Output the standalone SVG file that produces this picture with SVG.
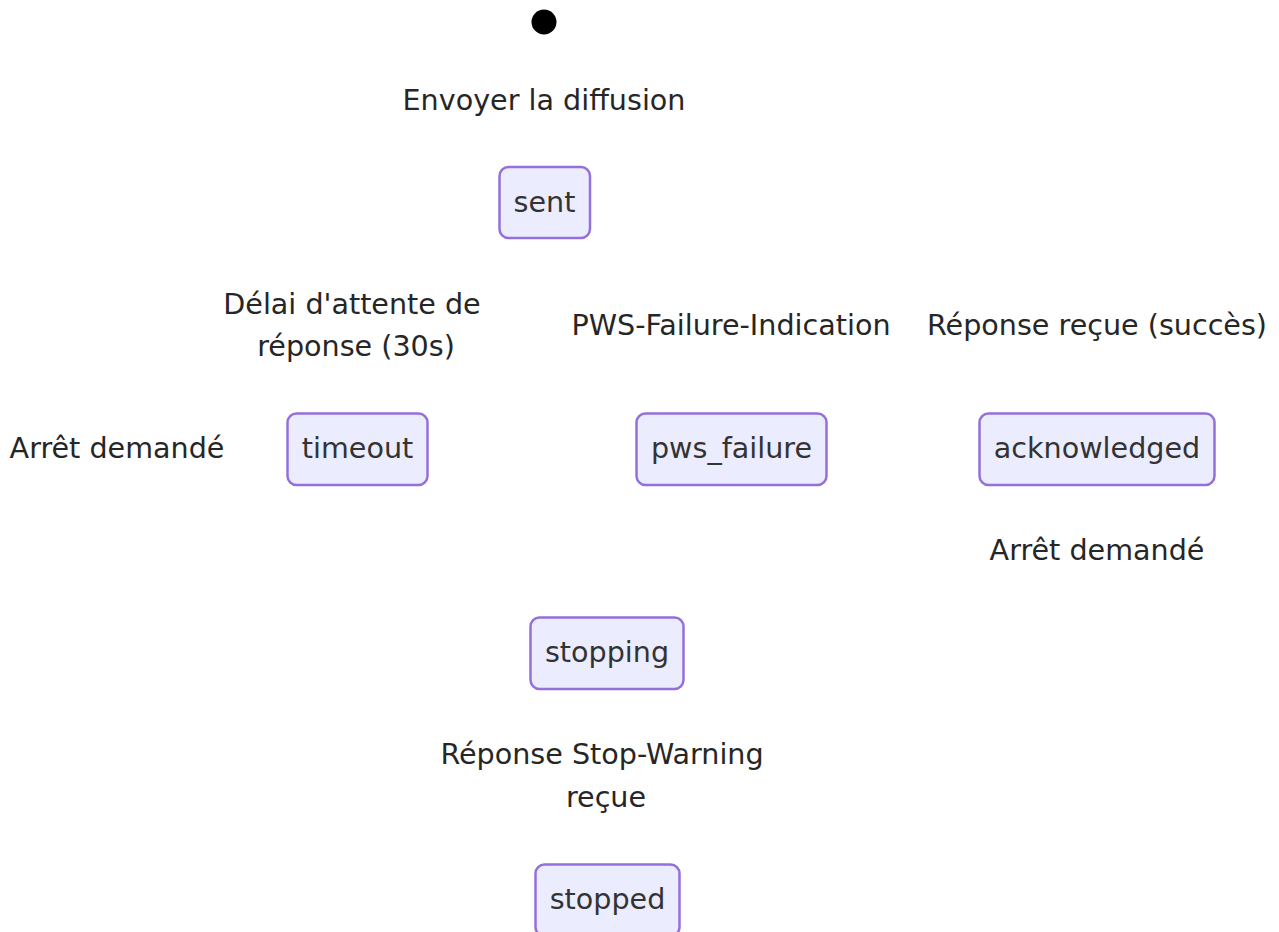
<svg xmlns="http://www.w3.org/2000/svg" width="1279" height="932" viewBox="0 0 1279 932">
  <style>
    .state rect { fill: #ECECFF; stroke: #9370DB; stroke-width: 2.5; }
    .state text, .lbl { font-family: "DejaVu Sans", "Liberation Sans", sans-serif; font-size: 28.6px; fill: #333333; text-anchor: middle; }
    .lbl { fill: #262626; }
  </style>
  <rect width="1279" height="932" fill="#ffffff"/>

  <!-- transitions (edge lines not rendered) -->
  <g id="connectors"></g>

  <!-- transition labels -->
  <g id="edge-labels">
    <text class="lbl" x="544" y="110">Envoyer la diffusion</text>
    <text class="lbl" x="352" y="314">Délai d'attente de</text>
    <text class="lbl" x="356" y="356">réponse (30s)</text>
    <text class="lbl" x="731" y="335">PWS-Failure-Indication</text>
    <text class="lbl" x="1097" y="335">Réponse reçue (succès)</text>
    <text class="lbl" x="117" y="458">Arrêt demandé</text>
    <text class="lbl" x="1097" y="560">Arrêt demandé</text>
    <text class="lbl" x="602" y="764">Réponse Stop-Warning</text>
    <text class="lbl" x="606" y="807">reçue</text>
  </g>

  <g id="start">
    <circle cx="544" cy="22" r="12.5" fill="#000000"/>
  </g>

  <g id="sent" class="state">
    <rect x="499.5" y="167" width="90.5" height="71" rx="9"/>
    <text x="544.5" y="212">sent</text>
  </g>

  <g id="timeout" class="state">
    <rect x="287.5" y="413.5" width="140" height="71.5" rx="9"/>
    <text x="357.5" y="458">timeout</text>
  </g>

  <g id="pws_failure" class="state">
    <rect x="636.5" y="413.5" width="190" height="71.5" rx="9"/>
    <text x="731.5" y="458">pws_failure</text>
  </g>

  <g id="acknowledged" class="state">
    <rect x="979.5" y="413.5" width="235" height="71.5" rx="9"/>
    <text x="1097" y="458">acknowledged</text>
  </g>

  <g id="stopping" class="state">
    <rect x="530.5" y="617.5" width="153" height="71.5" rx="9"/>
    <text x="607" y="662">stopping</text>
  </g>

  <g id="stopped" class="state">
    <rect x="535.5" y="864.5" width="144" height="71.5" rx="9"/>
    <text x="607.5" y="909">stopped</text>
  </g>
</svg>
